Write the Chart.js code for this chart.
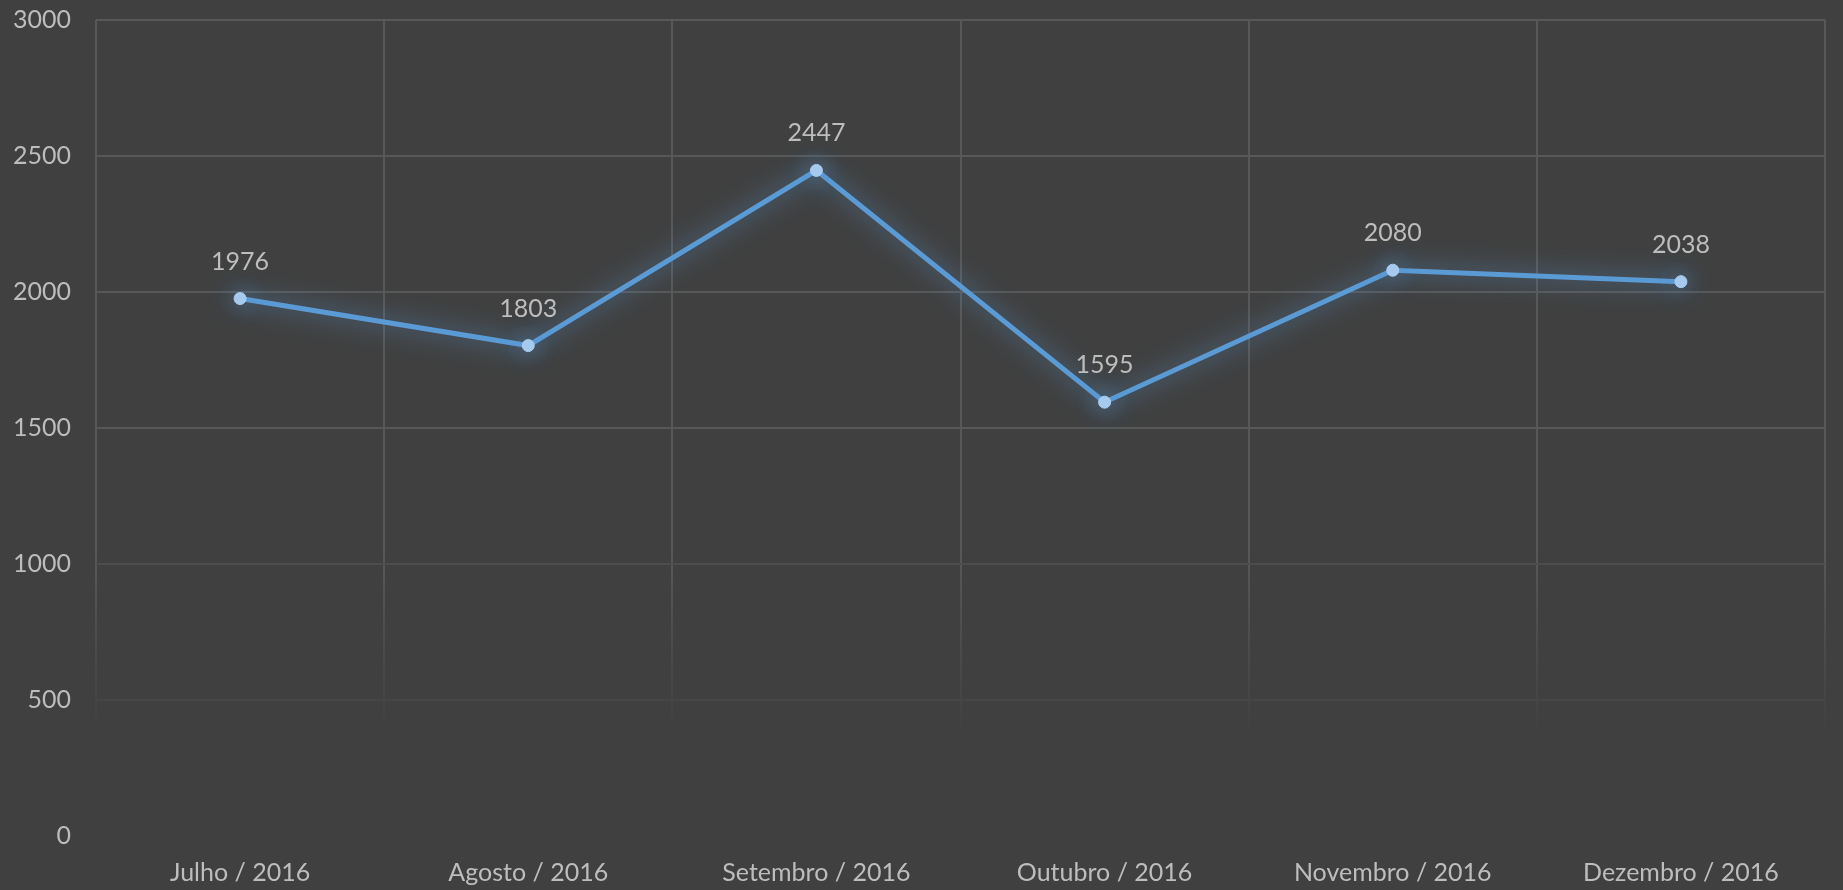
<!DOCTYPE html>
<html>
<head>
<meta charset="utf-8">
<script src="https://cdn.jsdelivr.net/npm/chart.js@4.4.1/dist/chart.umd.min.js"></script>
<style>
  html, body { margin: 0; padding: 0; background: #404040; overflow: hidden; }
  canvas { display: block; }
</style>
</head>
<body>
<canvas id="sales-chart" width="1843" height="890"></canvas>
<script>
  // chart data
  const months = ['Julho / 2016', 'Agosto / 2016', 'Setembro / 2016', 'Outubro / 2016', 'Novembro / 2016', 'Dezembro / 2016'];
  const totals = [1976, 1803, 2447, 1595, 2080, 2038];
  const yTicks = [0, 500, 1000, 1500, 2000, 2500, 3000];

  const textColor = '#bdbdbd';
  const gridColor = '#585858';
  const fontFamily = "Lato, 'Open Sans', sans-serif";

  const canvas = document.getElementById('sales-chart');
  const ctx = canvas.getContext('2d');

  // vertical grid lines fade out towards the bottom
  const vGrid = ctx.createLinearGradient(0, 0, 0, 890);
  vGrid.addColorStop(0, gridColor);
  vGrid.addColorStop(0.62, gridColor);
  vGrid.addColorStop(0.83, 'rgba(88,88,88,0)');
  vGrid.addColorStop(1, 'rgba(88,88,88,0)');

  // horizontal grid lines get dimmer near zero
  function hGridColor(value) {
    if (value >= 1500) return gridColor;
    if (value === 1000) return '#4d4d4d';
    if (value === 500) return '#464646';
    return 'rgba(0,0,0,0)';
  }

  // glow under the line
  const glowPlugin = {
    id: 'glow',
    beforeDatasetsDraw(chart) {
      chart.ctx.save();
      chart.ctx.shadowColor = 'rgba(91, 155, 213, 0.9)';
      chart.ctx.shadowBlur = 24;
    },
    afterDatasetsDraw(chart) {
      chart.ctx.restore();
    }
  };

  // value labels above each point
  const valueLabels = {
    id: 'valueLabels',
    afterDatasetsDraw(chart) {
      const c = chart.ctx;
      const meta = chart.getDatasetMeta(0);
      c.save();
      c.fillStyle = textColor;
      c.font = '25px ' + fontFamily;
      c.textAlign = 'center';
      c.textBaseline = 'middle';
      meta.data.forEach((pt, i) => {
        c.fillText(String(totals[i]), pt.x, pt.y - 37);
      });
      c.restore();
    }
  };

  new Chart(ctx, {
    type: 'line',
    data: {
      labels: months,
      datasets: [{
        label: 'Total',
        data: totals,
        borderColor: '#5b9bd5',
        borderWidth: 5,
        tension: 0,
        pointRadius: 6,
        pointBackgroundColor: '#a9cdef',
        pointBorderColor: '#a9cdef',
        pointBorderWidth: 1
      }]
    },
    options: {
      responsive: false,
      animation: false,
      layout: { padding: { top: 20, right: 18, left: 0, bottom: 0 } },
      scales: {
        x: {
          offset: true,
          grid: { offset: true, color: vGrid, lineWidth: 2, drawTicks: false },
          border: { display: false },
          ticks: { color: textColor, font: { family: fontFamily, size: 25 }, padding: 22, maxRotation: 0 },
          afterFit(scale) { scale.height = 54; }
        },
        y: {
          min: 0,
          max: 3000,
          afterBuildTicks(scale) { scale.ticks = yTicks.map(v => ({ value: v })); },
          // invisible tick marks push labels left without adding top padding
          grid: {
            color: ctx => hGridColor(ctx.tick.value),
            lineWidth: 2,
            drawTicks: true,
            tickLength: 20,
            tickColor: 'rgba(0,0,0,0)'
          },
          border: { display: false },
          ticks: {
            color: textColor,
            font: { family: fontFamily, size: 25 },
            padding: 5,
            callback: v => String(v)
          },
          afterFit(scale) { scale.width = 96; }
        }
      },
      plugins: {
        legend: { display: false },
        tooltip: { enabled: false }
      }
    },
    plugins: [glowPlugin, valueLabels]
  });
</script>
</body>
</html>
